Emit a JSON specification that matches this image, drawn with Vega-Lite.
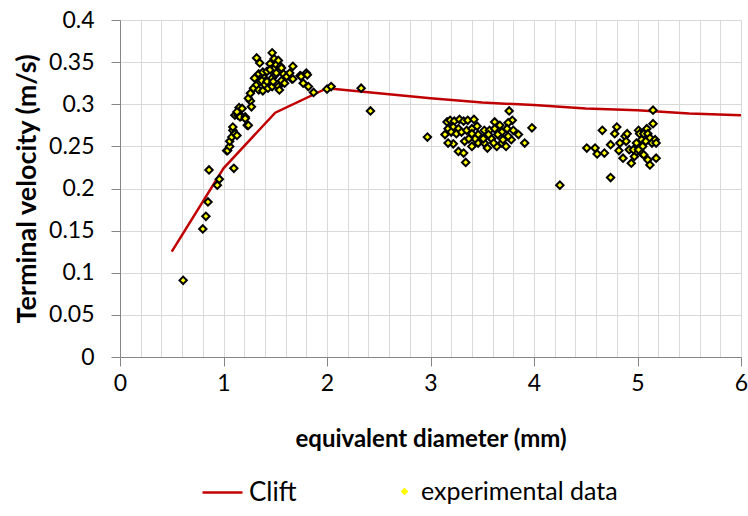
{
  "$schema": "https://vega.github.io/schema/vega-lite/v6.json",
  "autosize": {"type": "none"},
  "width": 621,
  "height": 337,
  "padding": {"left": 120, "top": 20, "right": 7, "bottom": 159},
  "background": "white",
  "config": {
    "view": {"stroke": null},
    "font": "Lato",
    "axis": {"labelFont": "Lato", "titleFont": "Lato", "labelColor": "#000000", "titleColor": "#000000"},
    "legend": {"labelFont": "Lato", "labelColor": "#000000", "labelLimit": 400}
  },
  "resolve": {"axis": {"x": "independent"}},
  "datasets": {
    "clift": [
      {"d": 0.5, "v": 0.125, "series": "Clift"},
      {"d": 1.0, "v": 0.224, "series": "Clift"},
      {"d": 1.5, "v": 0.290, "series": "Clift"},
      {"d": 2.0, "v": 0.319, "series": "Clift"},
      {"d": 2.5, "v": 0.313, "series": "Clift"},
      {"d": 3.0, "v": 0.307, "series": "Clift"},
      {"d": 3.5, "v": 0.302, "series": "Clift"},
      {"d": 4.0, "v": 0.299, "series": "Clift"},
      {"d": 4.5, "v": 0.295, "series": "Clift"},
      {"d": 5.0, "v": 0.293, "series": "Clift"},
      {"d": 5.5, "v": 0.289, "series": "Clift"},
      {"d": 6.0, "v": 0.287, "series": "Clift"}
    ],
    "exp": [
      {"d": 0.61, "v": 0.091}, {"d": 0.80, "v": 0.152}, {"d": 0.83, "v": 0.167}, {"d": 0.85, "v": 0.184},
      {"d": 0.86, "v": 0.222}, {"d": 0.94, "v": 0.204}, {"d": 0.96, "v": 0.211}, {"d": 1.03, "v": 0.245},
      {"d": 1.04, "v": 0.245}, {"d": 1.06, "v": 0.250}, {"d": 1.06, "v": 0.256}, {"d": 1.08, "v": 0.261},
      {"d": 1.09, "v": 0.269}, {"d": 1.09, "v": 0.273}, {"d": 1.10, "v": 0.224}, {"d": 1.11, "v": 0.265},
      {"d": 1.13, "v": 0.263}, {"d": 1.11, "v": 0.287}, {"d": 1.14, "v": 0.287}, {"d": 1.15, "v": 0.296},
      {"d": 1.17, "v": 0.286}, {"d": 1.13, "v": 0.291}, {"d": 1.16, "v": 0.285}, {"d": 1.18, "v": 0.295},
      {"d": 1.21, "v": 0.285}, {"d": 1.21, "v": 0.283}, {"d": 1.23, "v": 0.275}, {"d": 1.24, "v": 0.275},
      {"d": 1.26, "v": 0.304}, {"d": 1.27, "v": 0.297}, {"d": 1.24, "v": 0.307}, {"d": 1.26, "v": 0.313},
      {"d": 1.29, "v": 0.319}, {"d": 1.32, "v": 0.323}, {"d": 1.34, "v": 0.317}, {"d": 1.35, "v": 0.327},
      {"d": 1.30, "v": 0.331}, {"d": 1.34, "v": 0.336}, {"d": 1.32, "v": 0.355}, {"d": 1.35, "v": 0.349},
      {"d": 1.38, "v": 0.316}, {"d": 1.38, "v": 0.333}, {"d": 1.38, "v": 0.338}, {"d": 1.37, "v": 0.328},
      {"d": 1.40, "v": 0.323}, {"d": 1.42, "v": 0.339}, {"d": 1.42, "v": 0.327}, {"d": 1.43, "v": 0.319},
      {"d": 1.45, "v": 0.348}, {"d": 1.45, "v": 0.341}, {"d": 1.47, "v": 0.361}, {"d": 1.47, "v": 0.331},
      {"d": 1.47, "v": 0.321}, {"d": 1.48, "v": 0.327}, {"d": 1.49, "v": 0.354}, {"d": 1.50, "v": 0.343},
      {"d": 1.50, "v": 0.335}, {"d": 1.51, "v": 0.347}, {"d": 1.51, "v": 0.337}, {"d": 1.53, "v": 0.352},
      {"d": 1.53, "v": 0.321}, {"d": 1.54, "v": 0.317}, {"d": 1.55, "v": 0.345}, {"d": 1.56, "v": 0.343},
      {"d": 1.56, "v": 0.328}, {"d": 1.58, "v": 0.336}, {"d": 1.59, "v": 0.325}, {"d": 1.61, "v": 0.333},
      {"d": 1.64, "v": 0.337}, {"d": 1.66, "v": 0.330}, {"d": 1.67, "v": 0.345}, {"d": 1.67, "v": 0.330},
      {"d": 1.74, "v": 0.334}, {"d": 1.75, "v": 0.333}, {"d": 1.77, "v": 0.325}, {"d": 1.80, "v": 0.337},
      {"d": 1.81, "v": 0.335}, {"d": 1.82, "v": 0.321}, {"d": 1.87, "v": 0.314}, {"d": 2.00, "v": 0.318},
      {"d": 2.04, "v": 0.321}, {"d": 2.33, "v": 0.319}, {"d": 2.42, "v": 0.292}, {"d": 2.97, "v": 0.261},
      {"d": 3.16, "v": 0.279}, {"d": 3.19, "v": 0.281}, {"d": 3.23, "v": 0.280}, {"d": 3.28, "v": 0.282},
      {"d": 3.32, "v": 0.280}, {"d": 3.36, "v": 0.281}, {"d": 3.42, "v": 0.282}, {"d": 3.62, "v": 0.279},
      {"d": 3.76, "v": 0.292}, {"d": 3.79, "v": 0.281}, {"d": 3.75, "v": 0.278}, {"d": 3.67, "v": 0.275},
      {"d": 3.98, "v": 0.272}, {"d": 3.14, "v": 0.264}, {"d": 3.17, "v": 0.271}, {"d": 3.22, "v": 0.273},
      {"d": 3.27, "v": 0.271}, {"d": 3.20, "v": 0.267}, {"d": 3.25, "v": 0.265}, {"d": 3.30, "v": 0.267},
      {"d": 3.35, "v": 0.269}, {"d": 3.40, "v": 0.271}, {"d": 3.45, "v": 0.274}, {"d": 3.46, "v": 0.264},
      {"d": 3.52, "v": 0.269}, {"d": 3.57, "v": 0.269}, {"d": 3.62, "v": 0.271}, {"d": 3.69, "v": 0.267},
      {"d": 3.74, "v": 0.271}, {"d": 3.80, "v": 0.269}, {"d": 3.85, "v": 0.264}, {"d": 3.78, "v": 0.258},
      {"d": 3.91, "v": 0.254}, {"d": 3.22, "v": 0.253}, {"d": 3.27, "v": 0.244}, {"d": 3.32, "v": 0.242},
      {"d": 3.34, "v": 0.231}, {"d": 3.40, "v": 0.250}, {"d": 3.33, "v": 0.256}, {"d": 3.46, "v": 0.254},
      {"d": 3.52, "v": 0.254}, {"d": 3.55, "v": 0.248}, {"d": 3.59, "v": 0.259}, {"d": 3.64, "v": 0.250},
      {"d": 3.69, "v": 0.254}, {"d": 3.73, "v": 0.250}, {"d": 3.51, "v": 0.259}, {"d": 3.43, "v": 0.259},
      {"d": 3.37, "v": 0.259}, {"d": 3.40, "v": 0.265}, {"d": 3.56, "v": 0.264}, {"d": 3.65, "v": 0.264},
      {"d": 3.75, "v": 0.262}, {"d": 3.70, "v": 0.258}, {"d": 3.61, "v": 0.254}, {"d": 3.17, "v": 0.254},
      {"d": 4.25, "v": 0.204}, {"d": 5.15, "v": 0.293}, {"d": 5.15, "v": 0.277}, {"d": 4.66, "v": 0.269},
      {"d": 4.80, "v": 0.273}, {"d": 4.78, "v": 0.265}, {"d": 4.51, "v": 0.248}, {"d": 4.59, "v": 0.248},
      {"d": 4.61, "v": 0.241}, {"d": 4.68, "v": 0.242}, {"d": 4.74, "v": 0.252}, {"d": 4.74, "v": 0.213},
      {"d": 4.82, "v": 0.245}, {"d": 4.86, "v": 0.236}, {"d": 4.83, "v": 0.254}, {"d": 4.88, "v": 0.262},
      {"d": 4.90, "v": 0.265}, {"d": 4.89, "v": 0.256}, {"d": 4.92, "v": 0.246}, {"d": 4.94, "v": 0.230},
      {"d": 4.97, "v": 0.238}, {"d": 4.99, "v": 0.244}, {"d": 5.01, "v": 0.269}, {"d": 5.02, "v": 0.265},
      {"d": 5.04, "v": 0.258}, {"d": 5.05, "v": 0.250}, {"d": 5.04, "v": 0.242}, {"d": 5.06, "v": 0.265},
      {"d": 5.09, "v": 0.271}, {"d": 5.10, "v": 0.265}, {"d": 5.12, "v": 0.260}, {"d": 5.08, "v": 0.256},
      {"d": 5.14, "v": 0.254}, {"d": 5.17, "v": 0.258}, {"d": 5.18, "v": 0.254}, {"d": 5.10, "v": 0.234},
      {"d": 5.12, "v": 0.228}, {"d": 5.18, "v": 0.236}, {"d": 4.96, "v": 0.246}, {"d": 5.06, "v": 0.240},
      {"d": 4.99, "v": 0.254}, {"d": 5.01, "v": 0.246}
    ]
  },
  "layer": [
    {
      "data": {"name": "clift"},
      "mark": {"type": "line", "strokeWidth": 2.5},
      "encoding": {
        "x": {
          "field": "d", "type": "quantitative",
          "scale": {"domain": [0, 6], "nice": false, "zero": false},
          "axis": {
            "orient": "bottom",
            "values": [0, 1, 2, 3, 4, 5, 6],
            "format": "d",
            "labelOverlap": false,
            "labelFlush": false,
            "labelFontSize": 23,
            "labelPadding": 6,
            "tickSize": 9,
            "tickColor": "#868686",
            "domainColor": "#868686",
            "grid": false,
            "title": "equivalent diameter (mm)",
            "titleFontSize": 24,
            "titleFontWeight": "bold",
            "titlePadding": 32
          }
        },
        "y": {
          "field": "v", "type": "quantitative",
          "scale": {"domain": [0, 0.4], "nice": false},
          "axis": {
            "values": [0, 0.05, 0.1, 0.15, 0.2, 0.25, 0.3, 0.35, 0.4],
            "format": "~g",
            "labelFontSize": 23,
            "labelPadding": 17,
            "tickSize": 9,
            "tickColor": "#868686",
            "domainColor": "#868686",
            "grid": true,
            "gridColor": "#d9d9d9",
            "gridWidth": 1,
            "title": "Terminal velocity (m/s)",
            "titleFontSize": 27,
            "titleFontWeight": "bold",
            "titlePadding": 7
          }
        },
        "color": {
          "field": "series", "type": "nominal",
          "scale": {"domain": ["Clift"], "range": ["#c00000"]},
          "legend": {
            "orient": "none", "legendX": 81, "legendY": 451,
            "title": null, "padding": 0,
            "symbolType": "stroke", "symbolSize": 1600, "symbolStrokeWidth": 2.5,
            "labelFontSize": 26, "labelOffset": 5
          }
        }
      }
    },
    {
      "data": {"name": "exp"},
      "transform": [{"calculate": "'experimental data'", "as": "series"}],
      "mark": {"type": "point", "filled": true, "fill": "#ffff00", "stroke": "#000000", "strokeWidth": 2, "size": 55, "opacity": 1},
      "encoding": {
        "x": {
          "field": "d", "type": "quantitative",
          "axis": {
            "orient": "top",
            "values": [0.2, 0.4, 0.6, 0.8, 1, 1.2, 1.4, 1.6, 1.8, 2, 2.2, 2.4, 2.6, 2.8, 3, 3.2, 3.4, 3.6, 3.8, 4, 4.2, 4.4, 4.6, 4.8, 5, 5.2, 5.4, 5.6, 5.8, 6],
            "labels": false, "ticks": false, "domain": false, "title": null,
            "grid": true, "gridColor": "#d9d9d9", "gridWidth": 1
          }
        },
        "y": {"field": "v", "type": "quantitative", "title": "Terminal velocity (m/s)"},
        "shape": {
          "field": "series", "type": "nominal",
          "scale": {"domain": ["experimental data"], "range": ["diamond"]},
          "legend": {
            "orient": "none", "legendX": 272, "legendY": 459,
            "title": null, "padding": 0,
            "symbolSize": 60, "symbolFillColor": "#ffff00", "symbolStrokeColor": "#333333", "symbolStrokeWidth": 2,
            "labelFontSize": 25, "labelOffset": 4, "labelLimit": 400,
            "encode": {"symbols": {"update": {"fill": {"value": "#ffff00"}, "stroke": {"value": "#333333"}, "strokeWidth": {"value": 2}, "opacity": {"value": 1}}}}
          }
        }
      }
    }
  ]
}
